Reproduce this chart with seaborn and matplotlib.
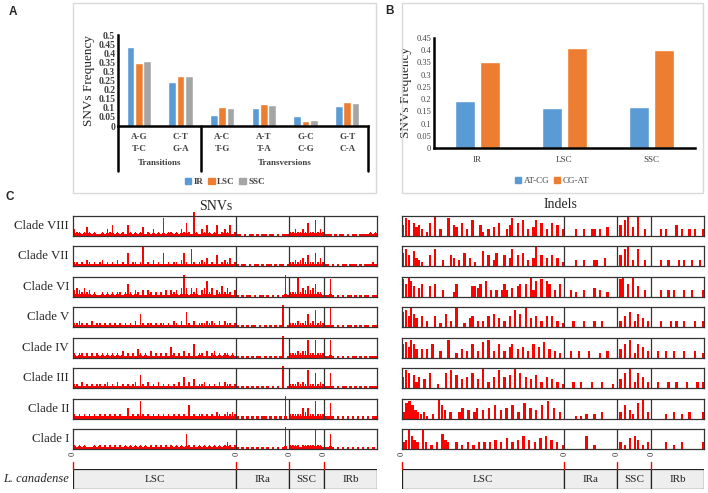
import numpy as np
import pandas as pd
import matplotlib
matplotlib.use("Agg")
import matplotlib.pyplot as plt
import seaborn as sns
from matplotlib.patches import Rectangle
from matplotlib.transforms import blended_transform_factory as blend

# panel A: SNV type frequencies
mutation_types = ["A-G\nT-C", "C-T\nG-A", "A-C\nT-G", "A-T\nT-A", "G-C\nC-G", "G-T\nC-A"]
snv_ir = [0.436, 0.241, 0.063, 0.097, 0.053, 0.112]
snv_lsc = [0.344, 0.276, 0.103, 0.119, 0.028, 0.132]
snv_ssc = [0.357, 0.272, 0.099, 0.116, 0.031, 0.129]

# panel B: AT-CG vs CG-AT per region
regions_b = ["IR", "LSC", "SSC"]
at_cg = [0.194, 0.165, 0.169]
cg_at = [0.353, 0.409, 0.402]

# panel C: variant density along the plastome (hex level per window, LSC|IRa|SSC|IRb)
clades = ["Clade VIII", "Clade VII", "Clade VI", "Clade V",
          "Clade IV", "Clade III", "Clade II", "Clade I"]
region_names = ["LSC", "IRa", "SSC", "IRb"]
region_bounds = [0, 81.8, 108.3, 125.8, 152.3]  # kb

snv_tracks = [
    "3221242121121325121215212124121312181221213262" + "1b2132521251232512"
    + "|110101101011011010111|22322326227232|111010110101101111212",
    "2212132121231212131216122129121312161212213621" + "8212324121512324" + "12"
    + "|101101011010110101101|22323425226242|110101011011101011121",
    "3432423121121212122126213213132121213132314a41" + "42413472413252" + "4213"
    + "|1010110101101010101a1|22292435346221|118101010110101011011",
    "2232121312212121212121213162122121221213213172" + "13122232321313" + "2212"
    + "|101010110101010101a01|22232236238232|119101010110101011011",
    "2122121212121212121312121421213121212152121312" + "16122131231212" + "2121"
    + "|101010101101010101a01|22232338228222|118101010101101010111",
    "2213121212212312131212123162131213121212131513" + "14122312121313" + "2212"
    + "|101010101010101010a01|22232328227232|117101011010101010111",
    "2121212121212121212115121282121212121212121216" + "12122121213212" + "3232"
    + "|1010101010110101010a0|22222535228222|117101010101010101011",
    "2121211121212121212121212121212121212121212172" + "12121212121212" + "3212"
    + "|1010101010101010101a0|22221222229221|117101010101010101010",
]

indel_tracks = [
    "5870645302609030080540603070052030406003580607030470603060503"
    + "|00003003003303004000|05079040900300|00030300050300303003",
    "6850743200508003005403060402007050360050480506030490504050402"
    + "|00003003000330040000|05089030800300|00030030003030030030",
    "8697504600506003000260000055460703030363040560609370807603060"
    + "|00302003000403002000|08906090500300|00030030300030030003",
    "7859640503005020603090020450303050604030508060904050305050302"
    + "|00030003000300300000|03050703604030|00030003030030003003",
    "6758640404060030080020403060307080306030560405030605070403020"
    + "|00300300030002003000|04060802605030|00300300300030003002",
    "5870635040700200708060405070409030508050609070504060305040302"
    + "|00030030003000300020|04070903705030|00300030030003000303",
    "3786432310209640300350403504050604050603070504060805030"
    + "|00001010200200300000|03060420709030|00000200300200300003",
    "3496430930203074300302030203030304030503040604030506040302"
    + "|00000000600200000000|03020506402030|00000300200300000003",
]

colors_a = ["#5B9BD5", "#ED7D31", "#A5A5A5"]
colors_b = ["#5B9BD5", "#ED7D31"]

sns.set_theme(style="white")
plt.rcParams['font.family'] = ['Liberation Serif', 'DejaVu Serif']

W, H = 708, 493
fig = plt.figure(figsize=(W / 100, H / 100), dpi=100)


def px_axes(x0, y0, x1, y1):
    return fig.add_axes([x0 / W, 1 - y1 / H, (x1 - x0) / W, (y1 - y0) / H])


def fx(x):
    return x / W


def fy(y):
    return 1 - y / H


# panel frames
for x0, y0, x1, y1 in [(73, 3, 376, 193), (402, 3, 703, 193)]:
    fig.patches.append(Rectangle((fx(x0), fy(y1)), fx(x1) - fx(x0), fy(y0) - fy(y1),
                                 transform=fig.transFigure, fill=False,
                                 edgecolor="#d9d9d9", lw=1))

sans = ['Liberation Sans', 'DejaVu Sans']
fig.text(fx(13), fy(12), "A", family=sans, weight="bold", fontsize=8.5, ha="center", va="center")
fig.text(fx(389), fy(11), "B", family=sans, weight="bold", fontsize=8.5, ha="center", va="center")
fig.text(fx(10), fy(197), "C", family=sans, weight="bold", fontsize=8.5, ha="center", va="center")

# ---- panel A ----
df_a = pd.DataFrame({
    "type": mutation_types * 3,
    "region": ["IR"] * 6 + ["LSC"] * 6 + ["SSC"] * 6,
    "freq": snv_ir + snv_lsc + snv_ssc,
})
axA = px_axes(118, 35, 368, 126)
sns.barplot(data=df_a, x="type", y="freq", hue="region", palette=colors_a,
            width=0.6, gap=0.1, saturation=1, errorbar=None, legend=False, ax=axA)
axA.set_xlim(-0.5, 5.5)
axA.set_ylim(0, 0.5)
yt = np.arange(0, 0.501, 0.05)
axA.set_yticks(yt)
axA.set_yticklabels([f"{v:g}" for v in yt], fontsize=7, weight="bold", color="#404040")
axA.set_xticks(range(6))
axA.set_xticklabels(mutation_types, fontsize=6.5, weight="bold", color="#404040", linespacing=1.7)
axA.tick_params(length=0, pad=2)
axA.tick_params(axis="x", pad=5)
axA.set_xlabel("")
axA.set_ylabel("SNVs Frequency", fontsize=9.5, labelpad=2)
for s in ["top", "right"]:
    axA.spines[s].set_visible(False)
for s in ["left", "bottom"]:
    axA.spines[s].set_color("black")
    axA.spines[s].set_linewidth(1.8)
tA = blend(axA.transData, axA.transAxes)
for x in [-0.5, 1.5, 5.5]:
    axA.plot([x, x], [0, -0.49], color="black", lw=1.8, transform=tA, clip_on=False)
axA.text(0.5, -0.41, "Transitions", transform=tA, ha="center", va="center",
         fontsize=6.5, weight="bold", color="#404040")
axA.text(3.5, -0.41, "Transversions", transform=tA, ha="center", va="center",
         fontsize=6.5, weight="bold", color="#404040")
handles = [Rectangle((0, 0), 1, 1, color=c) for c in colors_a]
fig.legend(handles, ["IR", "LSC", "SSC"], loc="center", bbox_to_anchor=(fx(225), fy(182)),
           ncol=3, frameon=False, handlelength=0.7, handleheight=0.7, columnspacing=0.5,
           handletextpad=0.3, prop={"size": 6.5, "weight": "bold"}, labelcolor="#404040")

# ---- panel B ----
df_b = pd.DataFrame({
    "region": regions_b * 2,
    "kind": ["AT-CG"] * 3 + ["CG-AT"] * 3,
    "freq": at_cg + cg_at,
})
axB = px_axes(434, 38, 695, 148)
sns.barplot(data=df_b, x="region", y="freq", hue="kind", palette=colors_b,
            width=0.56, gap=0.17, saturation=1, errorbar=None, legend=False, ax=axB)
axB.set_xlim(-0.5, 2.5)
axB.set_ylim(0, 0.45)
ytb = np.arange(0, 0.451, 0.05)
axB.set_yticks(ytb)
axB.set_yticklabels([f"{v:g}" for v in ytb], fontsize=6, color="#404040")
axB.set_xticks(range(3))
axB.set_xticklabels(regions_b, fontsize=6.5, color="#404040")
axB.tick_params(length=0, pad=2)
axB.tick_params(axis="x", pad=6)
axB.set_xlabel("")
axB.set_ylabel("SNVs Frequency", fontsize=9.5, labelpad=3)
for s in ["top", "right"]:
    axB.spines[s].set_visible(False)
for s in ["left", "bottom"]:
    axB.spines[s].set_color("black")
    axB.spines[s].set_linewidth(1.8)
handles = [Rectangle((0, 0), 1, 1, color=c) for c in colors_b]
fig.legend(handles, ["AT-CG", "CG-AT"], loc="center", bbox_to_anchor=(fx(552), fy(181)),
           ncol=2, frameon=False, handlelength=0.7, handleheight=0.7, columnspacing=0.5,
           handletextpad=0.3, prop={"size": 6.5}, labelcolor="#404040")


# ---- panel C ----
def draw_track(ax, track, width_frac, base=0.0):
    for part, a, b in zip(track.split("|"), region_bounds[:-1], region_bounds[1:]):
        heights = np.array([int(c, 16) for c in part], dtype=float)
        step = (b - a) / len(heights)
        pos = a + step * (np.arange(len(heights)) + 0.5)
        if base > 0:
            ax.bar(pos, np.minimum(heights, base), width=step * 1.02, color="red", linewidth=0)
        ax.bar(pos, heights, width=step * width_frac, color="red", linewidth=0, clip_on=False)
    ax.set_xlim(0, region_bounds[-1])
    ax.set_ylim(0, 9)
    for x in region_bounds[1:-1]:
        ax.axvline(x, color="#333333", lw=0.9)
    ax.set_xticks([])
    ax.set_yticks([])
    for s in ax.spines.values():
        s.set_visible(True)
        s.set_color("#333333")
        s.set_linewidth(0.9)


fig.text(fx(216), fy(207), "SNVs", fontsize=10, ha="center", va="center")
fig.text(fx(560), fy(205), "Indels", fontsize=10, ha="center", va="center")

for i, clade in enumerate(clades):
    top = 216 + i * 30.45
    draw_track(px_axes(73, top, 377, top + 20), snv_tracks[i], 0.6, base=1.2)
    draw_track(px_axes(402, top, 704, top + 20), indel_tracks[i], 0.85)
    fig.text(fx(69), fy(top + 10), clade, fontsize=9.3, ha="right", va="center")

for x0, x1 in [(73, 377), (402, 704)]:
    ax = px_axes(x0, 469, x1, 489)
    for a, b, name in zip(region_bounds[:-1], region_bounds[1:], region_names):
        ax.add_patch(Rectangle((a, 0), b - a, 1, facecolor="#eeeeee", edgecolor="#222222", lw=0.9))
        ax.text((a + b) / 2, 0.45, name, ha="center", va="center", fontsize=8, color="#222222")
    ax.set_xlim(0, region_bounds[-1])
    ax.set_ylim(0, 1)
    ax.axis("off")
    tr = blend(ax.transData, ax.transAxes)
    for a in region_bounds[:-1]:
        ax.text(a, 1.75, "0", rotation=90, ha="center", va="center", fontsize=6, transform=tr)
        ax.plot([a, a], [1.0, 1.35], color="red", lw=1, transform=tr, clip_on=False)

fig.text(fx(69), fy(479), "L. canadense", fontsize=8.9, style="italic", ha="right", va="center")

fig.savefig("out.png", dpi=100)
